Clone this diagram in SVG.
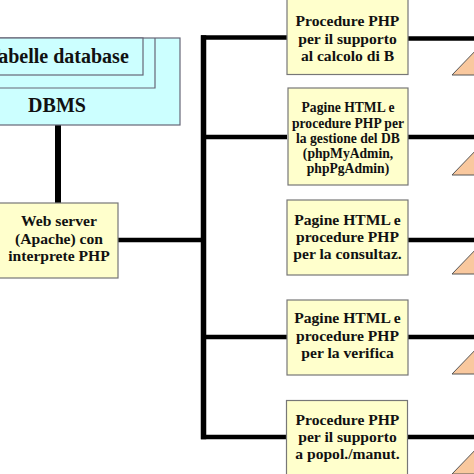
<svg xmlns="http://www.w3.org/2000/svg" width="474" height="474" viewBox="0 0 474 474">
<style>
.box{fill:#FFFFCC;stroke:#777;stroke-width:1.2}
.db{fill:#CCFFFF;stroke:#667;stroke-width:1.2}
.tri{fill:#F9C89E;stroke:#555;stroke-width:1}
.ln{stroke:#000;fill:none}
text{font-family:"Liberation Serif","Times New Roman",serif;font-weight:bold;fill:#111;text-anchor:middle}
.t16{font-size:15.6px}
.t13{font-size:13.6px}
.t20{font-size:20px}
</style>
<rect width="474" height="474" fill="#fff"/>
<g id="connectors">
<line class="ln" x1="58" y1="125" x2="58" y2="203" stroke-width="6"/>
<line class="ln" x1="118" y1="240" x2="203.5" y2="240" stroke-width="4.5"/>
<line class="ln" x1="203.5" y1="35.3" x2="203.5" y2="439.3" stroke-width="5.5"/>
<line class="ln" x1="201" y1="37.5" x2="287" y2="37.5" stroke-width="4.5"/>
<line class="ln" x1="201" y1="137" x2="287" y2="137" stroke-width="4.5"/>
<line class="ln" x1="201" y1="337" x2="287" y2="337" stroke-width="4.5"/>
<line class="ln" x1="201" y1="437" x2="287" y2="437" stroke-width="4.5"/>
<line class="ln" x1="408" y1="38.5" x2="474" y2="38.5" stroke-width="4.5"/>
<line class="ln" x1="408" y1="137" x2="474" y2="137" stroke-width="4.5"/>
<line class="ln" x1="408" y1="240" x2="474" y2="240" stroke-width="4.5"/>
<line class="ln" x1="408" y1="337" x2="474" y2="337" stroke-width="4.5"/>
<line class="ln" x1="408" y1="437" x2="474" y2="437" stroke-width="4.5"/>
</g>
<g id="dbms">
<rect class="db" x="-10" y="38" width="190" height="87"/>
<polyline points="155,38 155,88 -10,88" fill="none" stroke="#667" stroke-width="1.2"/>
<rect class="db" x="-10" y="38" width="153" height="37"/>
<text class="t20" x="-13.3" y="63" style="text-anchor:start">Tabelle database</text>
<text class="t20" x="57" y="112">DBMS</text>
</g>
<g id="webserver">
<rect class="box" x="-10" y="203" width="128" height="75"/>
<text class="t16" x="59" y="226">Web server</text>
<text class="t16" x="59" y="243.5">(Apache) con</text>
<text class="t16" x="59" y="261">interprete PHP</text>
</g>
<g id="box1">
<rect class="box" x="287" y="-10" width="121" height="84.5"/>
<text class="t16" x="347.5" y="26">Procedure PHP</text>
<text class="t16" x="347.5" y="43.5">per il supporto</text>
<text class="t16" x="347.5" y="61">al calcolo di B</text>
</g>
<g id="box2">
<rect class="box" x="288" y="88" width="120" height="97"/>
<text class="t13" x="348" y="112">Pagine HTML e</text>
<text class="t13" x="348" y="127.5">procedure PHP per</text>
<text class="t13" x="348" y="142.5">la gestione del DB</text>
<text class="t13" x="348" y="157.5">(phpMyAdmin,</text>
<text class="t13" x="348" y="172.5">phpPgAdmin)</text>
</g>
<g id="box3">
<rect class="box" x="287" y="200" width="121" height="75"/>
<text class="t16" x="347.5" y="225">Pagine HTML e</text>
<text class="t16" x="347.5" y="242">procedure PHP</text>
<text class="t16" x="347.5" y="259">per la consultaz.</text>
</g>
<g id="box4">
<rect class="box" x="287" y="300" width="121" height="75"/>
<text class="t16" x="347.5" y="323">Pagine HTML e</text>
<text class="t16" x="347.5" y="340.5">procedure PHP</text>
<text class="t16" x="347.5" y="358">per la verifica</text>
</g>
<g id="box5">
<rect class="box" x="286.5" y="400.5" width="121" height="84"/>
<text class="t16" x="347.5" y="425">Procedure PHP</text>
<text class="t16" x="347.5" y="442">per il supporto</text>
<text class="t16" x="347.5" y="459">a popol./manut.</text>
</g>
<g id="triangles">
<polygon class="tri" points="452,75 480,46 480,75"/>
<polygon class="tri" points="452,175 480,146 480,175"/>
<polygon class="tri" points="452,274 480,245 480,274"/>
<polygon class="tri" points="452,374 480,345 480,374"/>
<polygon class="tri" points="452,474 480,445 480,474"/>
</g>
</svg>
